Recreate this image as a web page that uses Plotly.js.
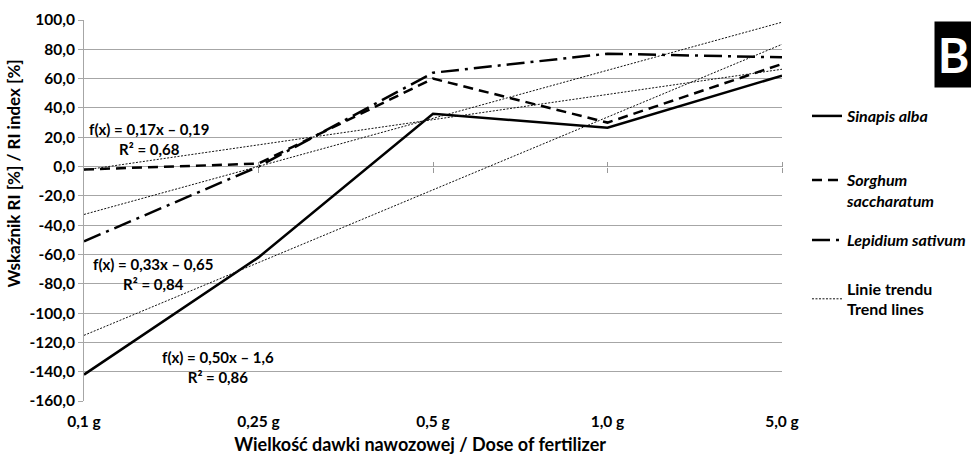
<!DOCTYPE html>
<html>
<head>
<meta charset="utf-8">
<script src="https://cdn.plot.ly/plotly-3.0.1.min.js"></script>
<style>html,body{margin:0;padding:0;background:#fff;}#chart{width:971px;height:455px;}</style>
</head>
<body>
<div id="chart"></div>
<script>
const categories = ['0,1 g', '0,25 g', '0,5 g', '1,0 g', '5,0 g'];
const sinapisAlba = [-142, -62, 36, 26.5, 62];
const sorghumSaccharatum = [-2, 2, 60, 30, 70];
const lepidiumSativum = [-51, 0, 64, 77, 74.5];
const seriesNames = ['<b><i>Sinapis alba</i></b>', '<b><i>Sorghum<br>saccharatum</i></b>', '<b><i>Lepidium sativum</i></b>'];
const trendName = '<b>Linie trendu<br>Trend lines</b>';
const equationLabels = ['f(x) = 0,17x – 0,19<br>R² = 0,68', 'f(x) = 0,33x – 0,65<br>R² = 0,84', 'f(x) = 0,50x – 1,6<br>R² = 0,86'];
const yTickVals = [100, 80, 60, 40, 20, 0, -20, -40, -60, -80, -100, -120, -140, -160];
const yTickText = yTickVals.map(v => v.toFixed(1).replace('.', ','));
const yRange = [-160, 100];
const xTitle = 'Wielkość dawki nawozowej / Dose of fertilizer';
const yTitle = 'Wskaźnik RI [%] / RI index [%]';

function linFit(ys) {
  const n = ys.length;
  const xs = ys.map((_, i) => i + 1);
  const mx = xs.reduce((a, b) => a + b, 0) / n;
  const my = ys.reduce((a, b) => a + b, 0) / n;
  let sxy = 0, sxx = 0;
  for (let i = 0; i < n; i++) { sxy += (xs[i] - mx) * (ys[i] - my); sxx += (xs[i] - mx) * (xs[i] - mx); }
  const b = sxy / sxx, a = my - b * mx;
  return xs.map(x => a + b * x);
}

const font = 'Lato, "Open Sans", sans-serif';
const NB = '\u00A0';
const traces = [
  {x: categories, y: sinapisAlba, name: seriesNames[0], mode: 'lines', line: {color: '#000', width: 2.5}, legend: 'legend'},
  {x: categories, y: sorghumSaccharatum, name: seriesNames[1], mode: 'lines', line: {color: '#000', width: 2.5, dash: '10px,6px'}, legend: 'legend2'},
  {x: categories, y: lepidiumSativum, name: seriesNames[2], mode: 'lines', line: {color: '#000', width: 2.5, dash: '18px,6px,3px,6px'}, legend: 'legend3'},
];
[sinapisAlba, sorghumSaccharatum, lepidiumSativum].forEach((s, i) => {
  traces.push({x: categories, y: linFit(s), name: trendName, mode: 'lines', line: {color: '#111', width: 1, dash: '2px,1.5px'}, legend: 'legend4', legendgroup: 't', showlegend: i === 0});
});
const zeroPos = (0 - yRange[0]) / (yRange[1] - yRange[0]);
const legX = 1.0358;
const legFont = {family: font, size: 16};
function leg(y, valign) {
  return {x: legX, xanchor: 'left', y: y, yanchor: 'middle', font: legFont, itemwidth: 30, bgcolor: 'rgba(0,0,0,0)', valign: valign || 'middle'};
}

const layout = {
  width: 971, height: 455,
  margin: {l: 84, r: 189, t: 20, b: 54, autoexpand: false},
  paper_bgcolor: '#fff', plot_bgcolor: '#fff',
  font: {family: font, size: 15, color: '#000'},
  showlegend: true,
  legend: leg(0.748),
  legend2: leg(0.5525, 'top'),
  legend3: leg(0.4226),
  legend4: leg(0.2677),
  xaxis: {type: 'category', range: [0, 4], showgrid: false, zeroline: false, showline: false, ticks: 'outside', ticklen: 6, tickcolor: 'rgba(0,0,0,0)',
    tickfont: {family: font, size: 15.5, weight: 'bold'},
    title: {text: '<b>' + xTitle + NB.repeat(6) + '</b>', font: {family: font, size: 18}, standoff: 20}},
  xaxis2: {type: 'category', range: [0, 4], overlaying: 'x', anchor: 'free', position: zeroPos, side: 'bottom', showgrid: false, zeroline: false,
    showline: false, showticklabels: false, ticks: 'outside', ticklen: 5, tickcolor: '#999', tickmode: 'array', tickvals: [1, 2, 3, 4]},
  xaxis3: {type: 'category', range: [0, 4], overlaying: 'x', anchor: 'free', position: zeroPos, side: 'top', showgrid: false, zeroline: false,
    showline: false, showticklabels: false, ticks: 'outside', ticklen: 5, tickcolor: '#999', tickmode: 'array', tickvals: [1, 2, 3, 4]},
  yaxis: {range: yRange, tickmode: 'array', tickvals: yTickVals, ticktext: yTickText, showgrid: true, gridcolor: '#a6a6a6', gridwidth: 1,
    zeroline: false, showline: true, linecolor: '#a6a6a6', linewidth: 1, ticks: 'outside', ticklen: 5, tickcolor: '#a6a6a6',
    tickfont: {family: font, size: 15.5, weight: 'bold'}, ticklabelstandoff: 0,
    title: {text: '<b>' + NB.repeat(18) + yTitle + '</b>', font: {family: font, size: 17}, standoff: 4}},
  annotations: [
    {xref: 'x', yref: 'y', x: 0.375, y: 19, text: '<b>' + equationLabels[0] + '</b>', showarrow: false, align: 'center', font: {family: font, size: 15}},
    {xref: 'x', yref: 'y', x: 0.395, y: -73, text: '<b>' + equationLabels[1] + '</b>', showarrow: false, align: 'center', font: {family: font, size: 15}},
    {xref: 'x', yref: 'y', x: 0.77, y: -137, text: '<b>' + equationLabels[2] + '</b>', showarrow: false, align: 'center', font: {family: font, size: 15}},
    {xref: 'paper', yref: 'paper', x: 1.2178, y: 0.9974, xanchor: 'left', yanchor: 'top', text: '<b>B</b>', showarrow: false,
      bgcolor: '#000', font: {family: font, size: 48, color: '#fff'}, borderpad: 0, width: 37, height: 65, align: 'center', valign: 'middle'}
  ]
};
traces.push({x: categories, y: [null, null, null, null, null], xaxis: 'x2', showlegend: false, hoverinfo: 'skip'});
traces.push({x: categories, y: [null, null, null, null, null], xaxis: 'x3', showlegend: false, hoverinfo: 'skip'});
Plotly.newPlot('chart', traces, layout, {displayModeBar: false, staticPlot: true});
</script>
</body>
</html>
